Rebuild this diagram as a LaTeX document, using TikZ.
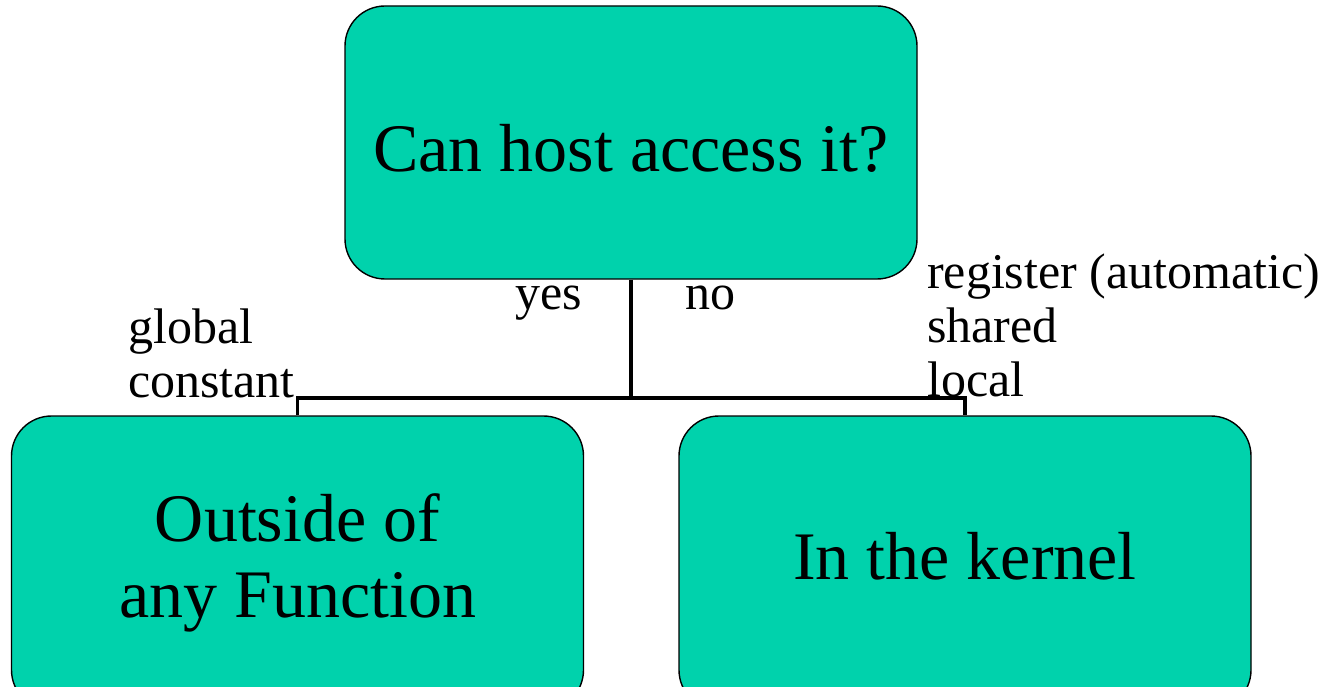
\documentclass[tikz,border=0pt]{standalone}
\usepackage{fontspec}
\setmainfont{Liberation Serif}
\definecolor{boxteal}{RGB}{0,210,172}
\begin{document}
\begin{tikzpicture}[x=1pt,y=-1pt,
  box/.style={draw=black,line width=1.4pt,fill=boxteal,rounded corners=40pt,
    minimum width=572pt,inner sep=0pt,align=center,
    font=\fontsize{68}{76}\selectfont},
  lbl/.style={anchor=base west,inner sep=0pt,font=\fontsize{50}{54}\selectfont},
  conn/.style={line width=3.2pt}]
\useasboundingbox (0,0) rectangle (1333,687);
\clip (0,0) rectangle (1333,687);
\node[box,minimum height=273pt,text height=59pt,text depth=0pt] (top) at (631,142.5) {Can host access it?};
\node[box,minimum height=294pt] (left) at (297.5,563) {Outside of\\any Function};
\node[box,minimum height=294pt,text height=46pt,text depth=14pt] (right) at (965,563) {In the kernel};
\coordinate (bar) at (631,398);
\draw[conn] (top.south) -- (bar);
\draw[conn] (left.north) |- (bar) -| (right.north);
\node[lbl] (yes) at (515,309) {yes};
\node[lbl] (no) at (685,309) {no};
\node[lbl] (g1) at (128,343) {global};
\node[lbl] (g2) at (128,397) {constant};
\node[lbl] (r1) at (927,288) {register (automatic)};
\node[lbl] (r2) at (927,342) {shared};
\node[lbl] (r3) at (927,396) {local};
\end{tikzpicture}
\end{document}
